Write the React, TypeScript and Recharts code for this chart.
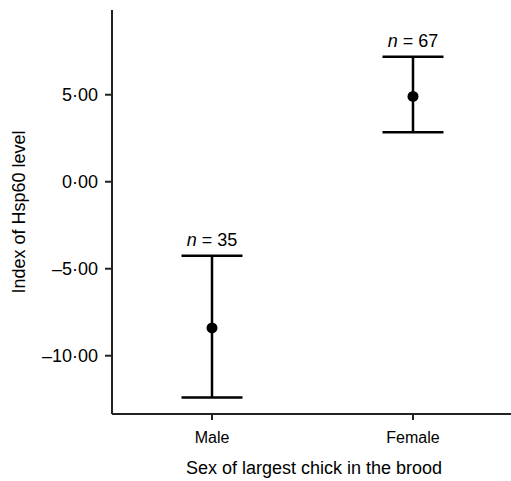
import { ComposedChart, Scatter, ErrorBar, XAxis, YAxis } from "recharts";

const sexes = ["Male", "Female"];
const means = [-8.4, 4.9];
const lowers = [-12.4, 2.85];
const uppers = [-4.25, 7.18];
const counts = [35, 67];

const yTicks = [-10, -5, 0, 5];

const data = sexes.map((sex, i) => ({
  sex,
  mean: means[i],
  upper: uppers[i],
  n: counts[i],
  err: [means[i] - lowers[i], uppers[i] - means[i]],
}));

const font = "'Liberation Sans', Arial, Helvetica, sans-serif";

const fmtTick = (v: number) => {
  const s = Math.abs(v).toFixed(2).replace(".", "·");
  return v < 0 ? "–" + s : s;
};

const Dot = (props: any) => <circle cx={props.cx} cy={props.cy} r={5.5} fill="#000" />;

const NLabel = (props: any) => (
  <text
    x={props.cx}
    y={props.cy - 10}
    textAnchor="middle"
    fontSize={18}
    fontFamily={font}
    fill="#000"
  >
    <tspan fontStyle="italic">n</tspan> = {props.payload.n}
  </text>
);

export default function App() {
  return (
    <div
      style={{
        position: "absolute",
        left: 0,
        top: 0,
        width: 511,
        height: 481,
        overflow: "hidden",
        background: "#fff",
      }}
    >
      <ComposedChart
        width={520}
        height={481}
        data={data}
        margin={{ top: 10, right: 4, bottom: 0, left: 0 }}
      >
        <XAxis
          dataKey="sex"
          type="category"
          height={67}
          padding={{ left: 100, right: 103 }}
          tickSize={6}
          tickMargin={12}
          stroke="#222"
          strokeWidth={2}
          tick={{ fontSize: 16, fill: "#000", fontFamily: font }}
          label={{
            content: (p: any) => {
              const vb = p.viewBox;
              return (
                <text
                  x={vb.x + vb.width / 2}
                  y={474}
                  textAnchor="middle"
                  fontSize={18}
                  fontFamily={font}
                  fill="#000"
                >
                  Sex of largest chick in the brood
                </text>
              );
            },
          }}
        />
        <YAxis
          type="number"
          width={112}
          domain={[-13.35, 9.87]}
          ticks={yTicks}
          allowDataOverflow
          tickFormatter={fmtTick}
          tickSize={7}
          tickMargin={7}
          stroke="#222"
          strokeWidth={2}
          tick={{ fontSize: 18, fill: "#000", fontFamily: font }}
          label={{
            content: (p: any) => {
              const vb = p.viewBox;
              const cy = vb.y + vb.height / 2;
              return (
                <text
                  x={25}
                  y={cy}
                  transform={`rotate(-90, 25, ${cy})`}
                  textAnchor="middle"
                  fontSize={18}
                  fontFamily={font}
                  fill="#000"
                >
                  Index of Hsp60 level
                </text>
              );
            },
          }}
        />
        <Scatter dataKey="mean" shape={<Dot />} isAnimationActive={false}>
          <ErrorBar
            dataKey="err"
            direction="y"
            width={30.5}
            stroke="#000"
            strokeWidth={2.5}
            isAnimationActive={false}
          />
        </Scatter>
        <Scatter dataKey="upper" shape={<NLabel />} isAnimationActive={false} />
      </ComposedChart>
    </div>
  );
}
